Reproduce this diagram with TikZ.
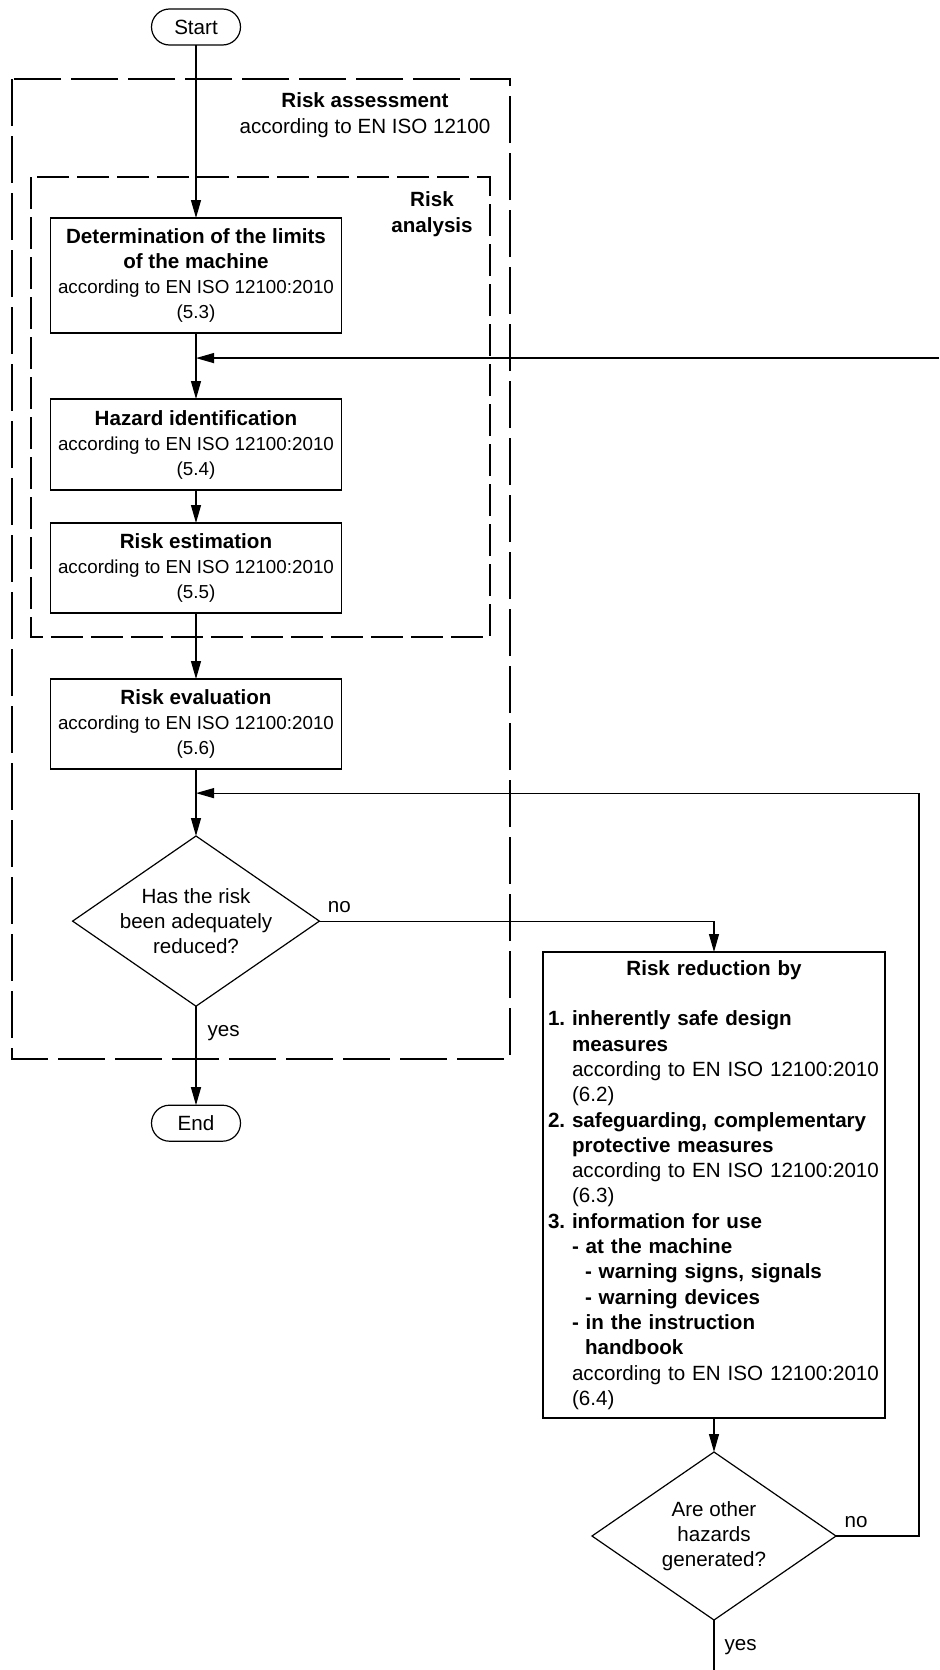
\documentclass[tikz,border=0pt]{standalone}
\usepackage{fontspec}
\setmainfont{Liberation Sans}
\usetikzlibrary{positioning,arrows.meta,shapes.geometric,calc}
\newcommand{\refline}{\fontsize{9.4}{12.5}\selectfont}

\begin{document}
\begin{tikzpicture}[
  font=\fontsize{10.3}{12.5}\selectfont,
  node distance=33pt,
  terminal/.style={draw,line width=0.6pt,rounded corners=9pt,outer sep=0pt,
    minimum width=44.5pt,minimum height=18pt,inner sep=2pt},
  process/.style={draw,line width=0.6pt,minimum width=145.5pt,outer sep=0pt,
    align=center,inner sep=2pt},
  decision/.style={draw,diamond,aspect=1.45,line width=0.6pt,outer sep=0pt,
    minimum width=122pt,minimum height=84pt,inner sep=0pt,align=center},
  reduction/.style={draw,line width=0.6pt,text width=166pt,inner xsep=2.5pt,outer sep=0pt,
    minimum height=233pt,align=left,font=\fontsize{10.3}{12.65}\selectfont},
  assessframe/.style={line width=1.15pt,dash pattern=on 23.5pt off 5pt},
  analysisframe/.style={line width=1.15pt,dash pattern=on 15.8pt off 4.2pt},
  framelabel/.style={align=center,font=\fontsize{10.3}{13}\selectfont},
  lbl/.style={inner sep=2pt},
  arrow/.style={-{Triangle[length=9pt,width=5pt]},line width=0.6pt}
]
\useasboundingbox (0,0) rectangle (469.5pt,-835pt);

\draw[assessframe] (6pt,-39.5pt) rectangle (255pt,-529.5pt);
\draw[analysisframe] (15.5pt,-88.5pt) rectangle (245pt,-318.5pt);
\node[framelabel] (assesslabel) at (182.5pt,-57.5pt) {\textbf{Risk assessment}\\according to EN ISO 12100};
\node[framelabel] (analysislabel) at (216pt,-107pt) {\textbf{Risk}\\\textbf{analysis}};

\node[terminal] (start) at (98pt,-13.5pt) {Start};
\node[process,minimum height=57.5pt,below=86.5pt of start] (limits) {\textbf{Determination of the limits}\\\textbf{of the machine}\\{\refline according to EN ISO 12100:2010}\\{\refline (5.3)}};
\node[process,minimum height=45.5pt,below=33pt of limits] (hazard) {\textbf{Hazard identification}\\{\refline according to EN ISO 12100:2010}\\{\refline (5.4)}};
\node[process,minimum height=45pt,below=16.5pt of hazard] (estimation) {\textbf{Risk estimation}\\{\refline according to EN ISO 12100:2010}\\{\refline (5.5)}};
\node[process,minimum height=45pt,below=33pt of estimation] (evaluation) {\textbf{Risk evaluation}\\{\refline according to EN ISO 12100:2010}\\{\refline (5.6)}};
\node[decision,below=33.5pt of evaluation] (adequate) {Has the risk\\been adequately\\reduced?};
\node[terminal,below=49.5pt of adequate] (end) {End};

\node[reduction,anchor=north] (reduction) at (357pt,-476pt) {\makebox[166pt]{\textbf{Risk reduction by}}\\[12.65pt]
\makebox[12pt][l]{\textbf{1.}}\textbf{inherently safe design}\\
\hspace*{12pt}\textbf{measures}\\
\hspace*{12pt}according to EN ISO 12100:2010\\
\hspace*{12pt}(6.2)\\
\makebox[12pt][l]{\textbf{2.}}\textbf{safeguarding, complementary}\\
\hspace*{12pt}\textbf{protective measures}\\
\hspace*{12pt}according to EN ISO 12100:2010\\
\hspace*{12pt}(6.3)\\
\makebox[12pt][l]{\textbf{3.}}\textbf{information for use}\\
\hspace*{12pt}\textbf{- at the machine}\\
\hspace*{18.5pt}\textbf{- warning signs, signals}\\
\hspace*{18.5pt}\textbf{- warning devices}\\
\hspace*{12pt}\textbf{- in the instruction}\\
\hspace*{18.5pt}\textbf{handbook}\\
\hspace*{12pt}according to EN ISO 12100:2010\\
\hspace*{12pt}(6.4)};
\node[decision,below=17pt of reduction] (others) {Are other\\hazards\\generated?};

\coordinate (loopabove) at ($(limits.south)!0.38!(hazard.north)$);
\coordinate (entertop) at (469.5pt,0pt);
\coordinate (loopbelow) at ($(evaluation.south)!0.36!(adequate.north)$);
\coordinate[below=25pt of others] (exitbottom);

\draw[arrow] (start) -- (limits);
\draw[arrow] (limits) -- (hazard);
\draw[arrow] (entertop |- loopabove) -- (loopabove);
\draw[arrow] (hazard) -- (estimation);
\draw[arrow] (estimation) -- (evaluation);
\draw[arrow] (evaluation) -- (adequate);
\draw[arrow] (adequate) -- node[lbl,pos=0.27,right=3.5pt]{yes} (end);
\draw[arrow] (adequate.east) node[lbl,above right=2pt and 2pt]{no} -| (reduction.north);
\draw[arrow] (reduction) -- (others);
\draw[arrow] (others.east) node[lbl,above right=2pt and 2pt]{no} -- ++(41.5pt,0) |- (loopbelow);
\draw[line width=0.6pt] (others) -- node[lbl,pos=0.54,right=3pt]{yes} (exitbottom);

\end{tikzpicture}
\end{document}
